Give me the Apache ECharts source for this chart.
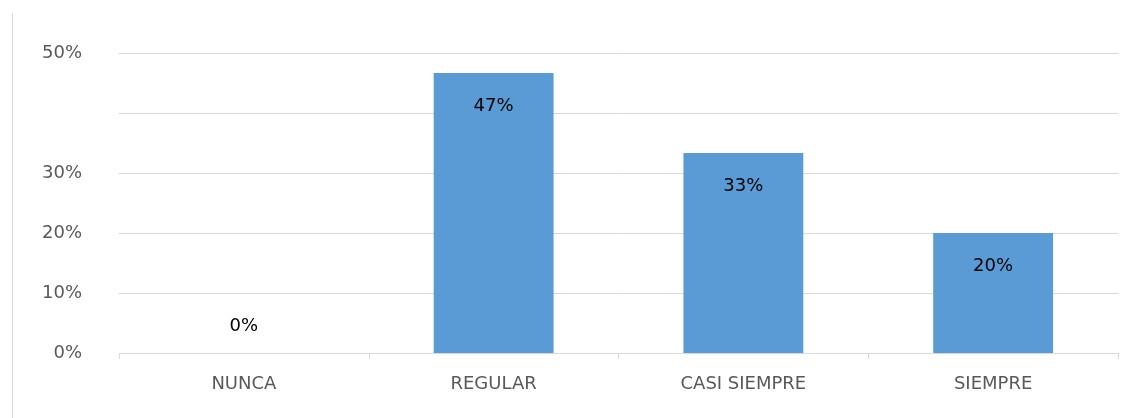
<!DOCTYPE html>
<html>
<head>
<meta charset="utf-8">
<script src="https://cdn.jsdelivr.net/npm/echarts@6/dist/echarts.min.js"></script>
<style>
html,body{margin:0;padding:0;background:#fff;}
#chart{width:1126px;height:418px;}
</style>
</head>
<body>
<div id="chart"></div>
<script>
const categories = ['NUNCA', 'REGULAR', 'CASI SIEMPRE', 'SIEMPRE'];
const values = [0, 0.4667, 0.3333, 0.20];
const valueLabels = ['0%', '47%', '33%', '20%'];
const yTickLabels = ['0%', '10%', '20%', '30%', '', '50%'];

const chart = echarts.init(document.getElementById('chart'));
const FONT = 'DejaVu Sans';

const barData = values.map((v, i) => {
  const item = { value: v };
  if (v === 0) {
    item.label = { position: 'top', distance: 18 };
  }
  return item;
});

chart.setOption({
  animation: false,
  backgroundColor: '#fff',
  grid: { left: 119, right: 8, top: 53, bottom: 65 },
  graphic: [{
    type: 'line',
    shape: { x1: 12.5, y1: 13, x2: 12.5, y2: 418 },
    style: { stroke: '#d9d9d9', lineWidth: 1 }
  }],
  xAxis: {
    type: 'category',
    data: categories,
    axisLine: { lineStyle: { color: '#d9d9d9', width: 1 } },
    axisTick: { show: true, length: 6, lineStyle: { color: '#d9d9d9' } },
    axisLabel: { color: '#595959', fontFamily: FONT, fontSize: 18, margin: 22 }
  },
  yAxis: {
    type: 'value',
    min: 0, max: 0.5, interval: 0.1,
    axisLine: { show: false },
    axisTick: { show: false },
    splitLine: { lineStyle: { color: '#d9d9d9', width: 1 } },
    axisLabel: {
      color: '#595959', fontFamily: FONT, fontSize: 18, margin: 37,
      formatter: (v) => yTickLabels[Math.round(v * 10)]
    }
  },
  series: [{
    type: 'bar',
    data: barData,
    barWidth: '48%',
    itemStyle: { color: '#5b9bd5' },
    label: {
      show: true,
      position: 'insideTop',
      distance: 24,
      color: '#000',
      fontFamily: FONT,
      fontSize: 18,
      formatter: (p) => valueLabels[p.dataIndex]
    }
  }]
});
</script>
</body>
</html>
